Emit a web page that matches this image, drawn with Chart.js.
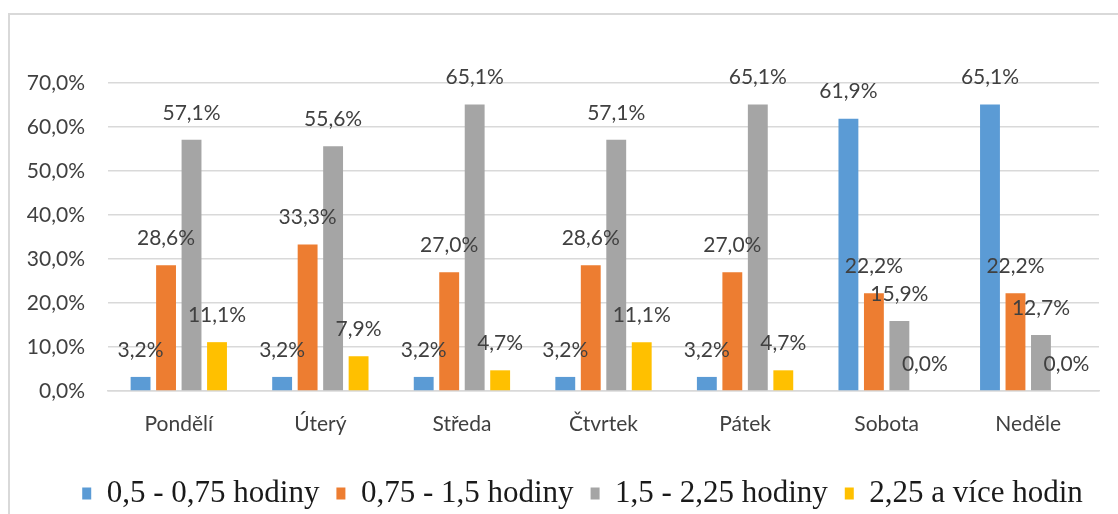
<!DOCTYPE html>
<html>
<head>
<meta charset="utf-8">
<script src="https://cdn.jsdelivr.net/npm/chart.js@4"></script>
<style>
  html, body { margin: 0; padding: 0; background: #fff; overflow: hidden; }
  #wrap { position: absolute; left: 0; top: 0; width: 1164px; height: 519px; }
  #frame { position: absolute; left: 8px; top: 13px; width: 1300px; height: 700px;
           border-top: 2px solid #d9d9d9; border-left: 2px solid #d9d9d9; }
</style>
</head>
<body>
<div id="frame"></div>
<div id="wrap"><canvas id="myChart" width="1164" height="519"></canvas></div>
<script>
const days = ['Pondělí', 'Úterý', 'Středa', 'Čtvrtek', 'Pátek', 'Sobota', 'Neděle'];
const seriesNames = ['0,5 - 0,75 hodiny', '0,75 - 1,5 hodiny', '1,5 - 2,25 hodiny', '2,25 a více hodin'];
const short = [3.2, 3.2, 3.2, 3.2, 3.2, 61.9, 65.1];
const mid = [28.6, 33.3, 27.0, 28.6, 27.0, 22.2, 22.2];
const long = [57.1, 55.6, 65.1, 57.1, 65.1, 15.9, 12.7];
const longest = [11.1, 7.9, 4.7, 11.1, 4.7, 0.0, 0.0];
const yTicks = [0, 10, 20, 30, 40, 50, 60, 70];

const colors = ['#5b9bd5', '#ed7d31', '#a5a5a5', '#ffc000'];
const fmt = v => v.toFixed(1).replace('.', ',') + '%';

// value labels above the bars
const barLabels = {
    id: 'barLabels',
    afterDatasetsDraw(chart) {
        const ctx = chart.ctx;
        ctx.save();
        ctx.font = '21px Lato';
        ctx.fillStyle = '#404040';
        ctx.textAlign = 'center';
        ctx.textBaseline = 'middle';
        chart.data.datasets.forEach((ds, i) => {
            chart.getDatasetMeta(i).data.forEach((bar, j) => {
                ctx.fillText(fmt(ds.data[j]), bar.x, bar.y - 27);
            });
        });
        ctx.restore();
    }
};

// the legend sits a bit right of the plot centre in the original
const legendShift = {
    id: 'legendShift',
    afterLayout(chart) {
        chart.legend.left += 33;
        chart.legend.right += 33;
    }
};

const data = {
    labels: days,
    datasets: [short, mid, long, longest].map((vals, i) => ({
        label: seriesNames[i],
        data: vals,
        backgroundColor: colors[i],
        borderWidth: 0,
        categoryPercentage: 0.72,
        barPercentage: 0.78
    }))
};

const chart = new Chart(document.getElementById('myChart'), {
    type: 'bar',
    data: data,
    plugins: [barLabels, legendShift],
    options: {
        responsive: false,
        animation: false,
        layout: { padding: { top: 83, left: 0, right: 65, bottom: 0 } },
        plugins: {
            tooltip: { enabled: false },
            legend: {
                position: 'bottom',
                labels: {
                    boxWidth: 9,
                    boxHeight: 12,
                    padding: 17,
                    color: '#1a1a1a',
                    font: { family: 'Liberation Serif', size: 31 }
                }
            }
        },
        scales: {
            x: {
                grid: { display: false, drawTicks: false },
                border: { color: '#d9d9d9', width: 1.5 },
                ticks: { color: '#404040', padding: 21, font: { family: 'Lato', size: 21 } },
                afterFit: s => { s.height = 70; }
            },
            y: {
                min: 0,
                max: 70,
                afterBuildTicks: s => { s.ticks = yTicks.map(v => ({ value: v })); },
                afterFit: s => { s.width = 108; },
                grid: { color: '#d9d9d9', lineWidth: 1.5, drawTicks: false },
                border: { display: false },
                ticks: {
                    color: '#404040',
                    padding: 23,
                    font: { family: 'Lato', size: 21 },
                    callback: v => fmt(v)
                }
            }
        }
    }
});
</script>
</body>
</html>
